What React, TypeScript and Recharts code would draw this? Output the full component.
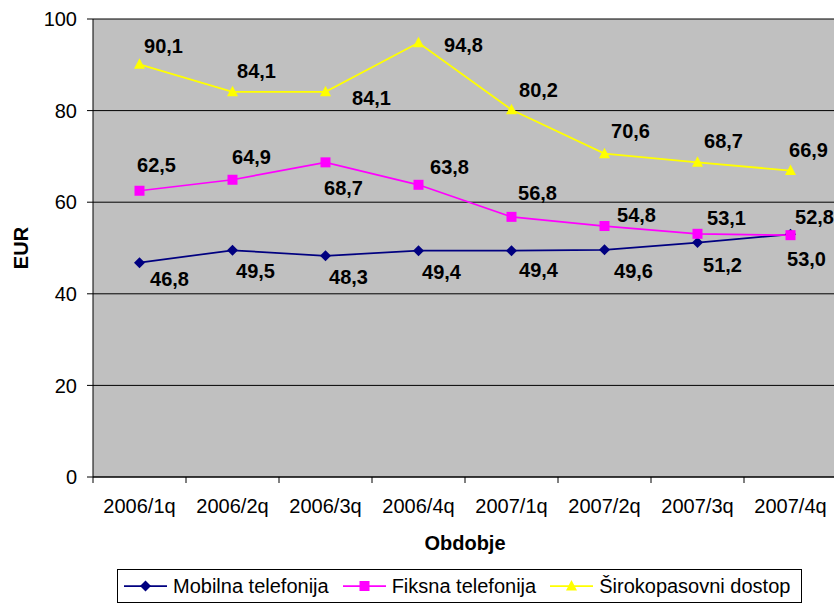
import { LineChart, Line, XAxis, YAxis, CartesianGrid, LabelList } from 'recharts'

const quarters = ['2006/1q', '2006/2q', '2006/3q', '2006/4q', '2007/1q', '2007/2q', '2007/3q', '2007/4q']
const mobilna = [46.8, 49.5, 48.3, 49.4, 49.4, 49.6, 51.2, 53.0]
const fiksna = [62.5, 64.9, 68.7, 63.8, 56.8, 54.8, 53.1, 52.8]
const sirokopasovni = [90.1, 84.1, 84.1, 94.8, 80.2, 70.6, 68.7, 66.9]
const yTicks = [0, 20, 40, 60, 80, 100]

// label nudges (dx, dy) per point, like the hand-placed Excel labels
const mobilnaLabelShift = [[30, 16], [23, 21], [23, 21], [23, 21], [27, 19], [29, 21], [25, 22], [16, 25]]
const fiksnaLabelShift = [[17, -26], [19, -23], [18, 25], [31, -18], [26, -24], [32, -11], [29, -16], [24, -18]]
const sirokoLabelShift = [[24, -19], [24, -21], [46, 6], [45, 2], [27, -20], [26, -23], [26, -22], [18, -21]]

const FONT = '"Liberation Sans", Arial, sans-serif'
const CHART_W = 850
const CHART_H = 603
const PLOT_LEFT = 93
const PLOT_RIGHT = 837
const PLOT_TOP = 19
const PLOT_BOTTOM = 477
const Y_AXIS_W = 80
const X_AXIS_H = 80
const HALF_STEP = (PLOT_RIGHT - PLOT_LEFT) / quarters.length / 2

const data = quarters.map((q, i) => ({
  q,
  mobilna: mobilna[i],
  fiksna: fiksna[i],
  siroko: sirokopasovni[i],
}))

const series = [
  { key: 'mobilna', name: 'Mobilna telefonija', color: '#000080', shape: 'diamond', shift: mobilnaLabelShift },
  { key: 'fiksna', name: 'Fiksna telefonija', color: '#FF00FF', shape: 'square', shift: fiksnaLabelShift },
  { key: 'siroko', name: 'Širokopasovni dostop', color: '#FFFF00', shape: 'triangle', shift: sirokoLabelShift },
]

function Marker({ shape, cx, cy, color }: { shape: string; cx: number; cy: number; color: string }) {
  if (shape === 'diamond') {
    return <polygon points={`${cx},${cy - 5.5} ${cx + 5.5},${cy} ${cx},${cy + 5.5} ${cx - 5.5},${cy}`} fill={color} />
  }
  if (shape === 'square') {
    return <rect x={cx - 5} y={cy - 5} width={10} height={10} fill={color} />
  }
  return <polygon points={`${cx},${cy - 6} ${cx + 5.5},${cy + 4.5} ${cx - 5.5},${cy + 4.5}`} fill={color} />
}

const fmt = (v: number) => v.toFixed(1).replace('.', ',')

function CategoryTick(props: any) {
  const { x, y, payload, index } = props
  return (
    <g>
      <line x1={x - HALF_STEP} x2={x - HALF_STEP} y1={y} y2={y + 6} stroke="#000" />
      {index === quarters.length - 1 && (
        <line x1={x + HALF_STEP} x2={x + HALF_STEP} y1={y} y2={y + 6} stroke="#000" />
      )}
      <text x={x} y={y + 36} textAnchor="middle" fontSize={20} fontFamily={FONT} fill="#000">
        {payload.value}
      </text>
    </g>
  )
}

function LegendBox() {
  return (
    <div
      style={{
        position: 'absolute',
        left: 117,
        top: 569,
        width: 685,
        height: 34,
        boxSizing: 'border-box',
        border: '1px solid #000',
        display: 'flex',
        alignItems: 'center',
        paddingLeft: 6,
        fontFamily: FONT,
        fontSize: 20,
        color: '#000',
        background: '#fff',
      }}
    >
      {series.map((s) => (
        <div key={s.key} style={{ display: 'flex', alignItems: 'center', marginRight: 14 }}>
          <svg width={43} height={14} style={{ marginRight: 6 }}>
            <line x1={0} x2={43} y1={7} y2={7} stroke={s.color} strokeWidth={1.75} />
            <Marker shape={s.shape} cx={21.5} cy={7} color={s.color} />
          </svg>
          <span style={{ whiteSpace: 'nowrap', lineHeight: '20px' }}>{s.name}</span>
        </div>
      ))}
    </div>
  )
}

export default function App() {
  return (
    <div style={{ position: 'absolute', left: 0, top: 0, width: 834, height: 603, overflow: 'hidden', background: '#fff' }}>
      <LineChart
        width={CHART_W}
        height={CHART_H}
        data={data}
        margin={{
          top: PLOT_TOP,
          right: CHART_W - PLOT_RIGHT,
          left: PLOT_LEFT - Y_AXIS_W,
          bottom: CHART_H - PLOT_BOTTOM - X_AXIS_H,
        }}
      >
        <CartesianGrid vertical={false} fill="#C0C0C0" fillOpacity={1} stroke="#000" strokeWidth={1} />
        <XAxis
          dataKey="q"
          height={X_AXIS_H}
          padding={{ left: HALF_STEP, right: HALF_STEP }}
          tickSize={0}
          tickMargin={0}
          tickLine={false}
          axisLine={{ stroke: '#000' }}
          tick={(p: any) => <CategoryTick {...p} />}
          interval={0}
          label={{
            value: 'Obdobje',
            position: 'insideBottom',
            offset: 7,
            style: { fontFamily: FONT, fontSize: 20, fontWeight: 'bold', fill: '#000' },
          }}
        />
        <YAxis
          width={Y_AXIS_W}
          domain={[0, 100]}
          ticks={yTicks}
          interval={0}
          tickSize={6}
          tickMargin={10}
          tickLine={{ stroke: '#000' }}
          axisLine={{ stroke: '#000' }}
          tick={{ fontFamily: FONT, fontSize: 20, fill: '#000' }}
          label={{
            content: () => (
              <text
                x={28}
                y={248}
                transform="rotate(-90 28 248)"
                textAnchor="middle"
                fontFamily={FONT}
                fontSize={20}
                fontWeight="bold"
                fill="#000"
              >
                EUR
              </text>
            ),
          }}
        />
        {series.map((s) => (
          <Line
            key={s.key}
            dataKey={s.key}
            name={s.name}
            stroke={s.color}
            strokeWidth={1.75}
            isAnimationActive={false}
            dot={(p: any) => <Marker key={`${s.key}-${p.index}`} shape={s.shape} cx={p.cx} cy={p.cy} color={s.color} />}
            activeDot={false}
          >
            <LabelList
              dataKey={s.key}
              content={(p: any) => {
                const [dx, dy] = s.shift[p.index] || [0, 0]
                return (
                  <text
                    x={Number(p.x) + dx}
                    y={Number(p.y) + dy}
                    dy="0.36em"
                    textAnchor="middle"
                    fontFamily={FONT}
                    fontSize={20}
                    fontWeight="bold"
                    fill="#000"
                  >
                    {fmt(Number(p.value))}
                  </text>
                )
              }}
            />
          </Line>
        ))}
      </LineChart>
      <LegendBox />
    </div>
  )
}
